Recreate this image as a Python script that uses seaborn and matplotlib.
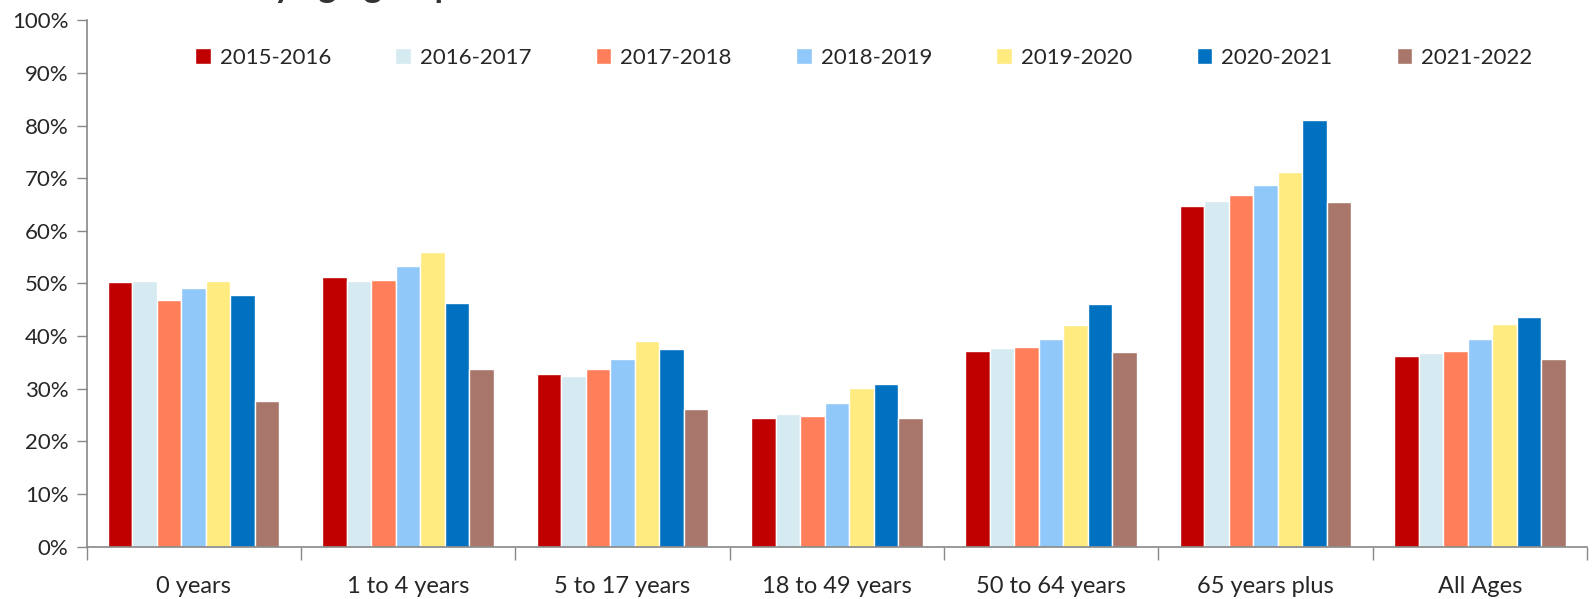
import pandas as pd
import matplotlib
matplotlib.use("Agg")
import matplotlib.pyplot as plt
import seaborn as sns
from matplotlib.ticker import PercentFormatter, FixedLocator

# Dados (percentual por faixa etária e temporada)
grupos = ["0 years", "1 to 4 years", "5 to 17 years", "18 to 49 years",
          "50 to 64 years", "65 years plus", "All Ages"]
temporadas = ["2015-2016", "2016-2017", "2017-2018", "2018-2019",
              "2019-2020", "2020-2021", "2021-2022"]

v_2015_2016 = [50.2, 51.3, 32.7, 24.4, 37.2, 64.8, 36.3]
v_2016_2017 = [50.4, 50.4, 32.4, 25.1, 37.7, 65.7, 36.7]
v_2017_2018 = [46.9, 50.6, 33.7, 24.8, 37.9, 66.8, 37.2]
v_2018_2019 = [49.1, 53.3, 35.7, 27.2, 39.4, 68.8, 39.4]
v_2019_2020 = [50.4, 56.0, 39.0, 30.1, 42.1, 71.1, 42.3]
v_2020_2021 = [47.8, 46.3, 37.5, 30.8, 46.1, 81.0, 43.6]
v_2021_2022 = [27.7, 33.7, 26.1, 24.4, 36.9, 65.5, 35.7]

cores = ["#C00000", "#D5EAF1", "#FF7F5B", "#91C8FA", "#FFEB7F", "#0070C0", "#A9766C"]

series = [v_2015_2016, v_2016_2017, v_2017_2018, v_2018_2019,
          v_2019_2020, v_2020_2021, v_2021_2022]
linhas = []
for temporada, valores in zip(temporadas, series):
    for grupo, valor in zip(grupos, valores):
        linhas.append([grupo, temporada, valor])
df = pd.DataFrame(linhas, columns=["Grupo", "Temporada", "Valor"])

sns.set_style("white")
plt.rcParams["font.family"] = ["Lato", "DejaVu Sans"]

fig = plt.figure(figsize=(15.96, 5.99), dpi=100)
ax = fig.add_axes([0.0542, 0.0876, 0.9402, 0.8784])

sns.barplot(data=df, x="Grupo", y="Valor", hue="Temporada", order=grupos,
            hue_order=temporadas, palette=cores, width=0.8,
            edgecolor="white", linewidth=1, saturation=1, ax=ax)

ax.set_ylim(0, 100)
ax.set_xlim(-0.5, len(grupos) - 0.5)
ax.set_yticks(range(0, 101, 10))
ax.yaxis.set_major_formatter(PercentFormatter(decimals=0))
ax.set_xlabel("")
ax.set_ylabel("")

# marcas do eixo x nas fronteiras das categorias
ax.xaxis.set_minor_locator(FixedLocator([i - 0.5 for i in range(len(grupos) + 1)]))
ax.tick_params(axis="x", which="major", length=0, pad=21, labelsize=17)
ax.tick_params(axis="x", which="minor", length=9, width=1, color="#888888", direction="out")
ax.tick_params(axis="y", length=7, width=1, color="#888888", labelsize=16, pad=6)
ax.tick_params(bottom=True, left=True, which="both")

for lado in ["top", "right"]:
    ax.spines[lado].set_visible(False)
for lado in ["left", "bottom"]:
    ax.spines[lado].set_color("#888888")
    ax.spines[lado].set_linewidth(1.2)

ax.legend(loc="center", bbox_to_anchor=(0.518, 0.929), ncol=7, frameon=False,
          fontsize=16, handlelength=0.7, handleheight=0.7, handletextpad=0.4,
          columnspacing=2.9)

# título cortado no topo da figura
fig.text(0.159, 1.005, "by age group", fontsize=25, fontweight="bold",
         color="#333333", ha="left", va="baseline")

fig.savefig("out.png", dpi=100)
